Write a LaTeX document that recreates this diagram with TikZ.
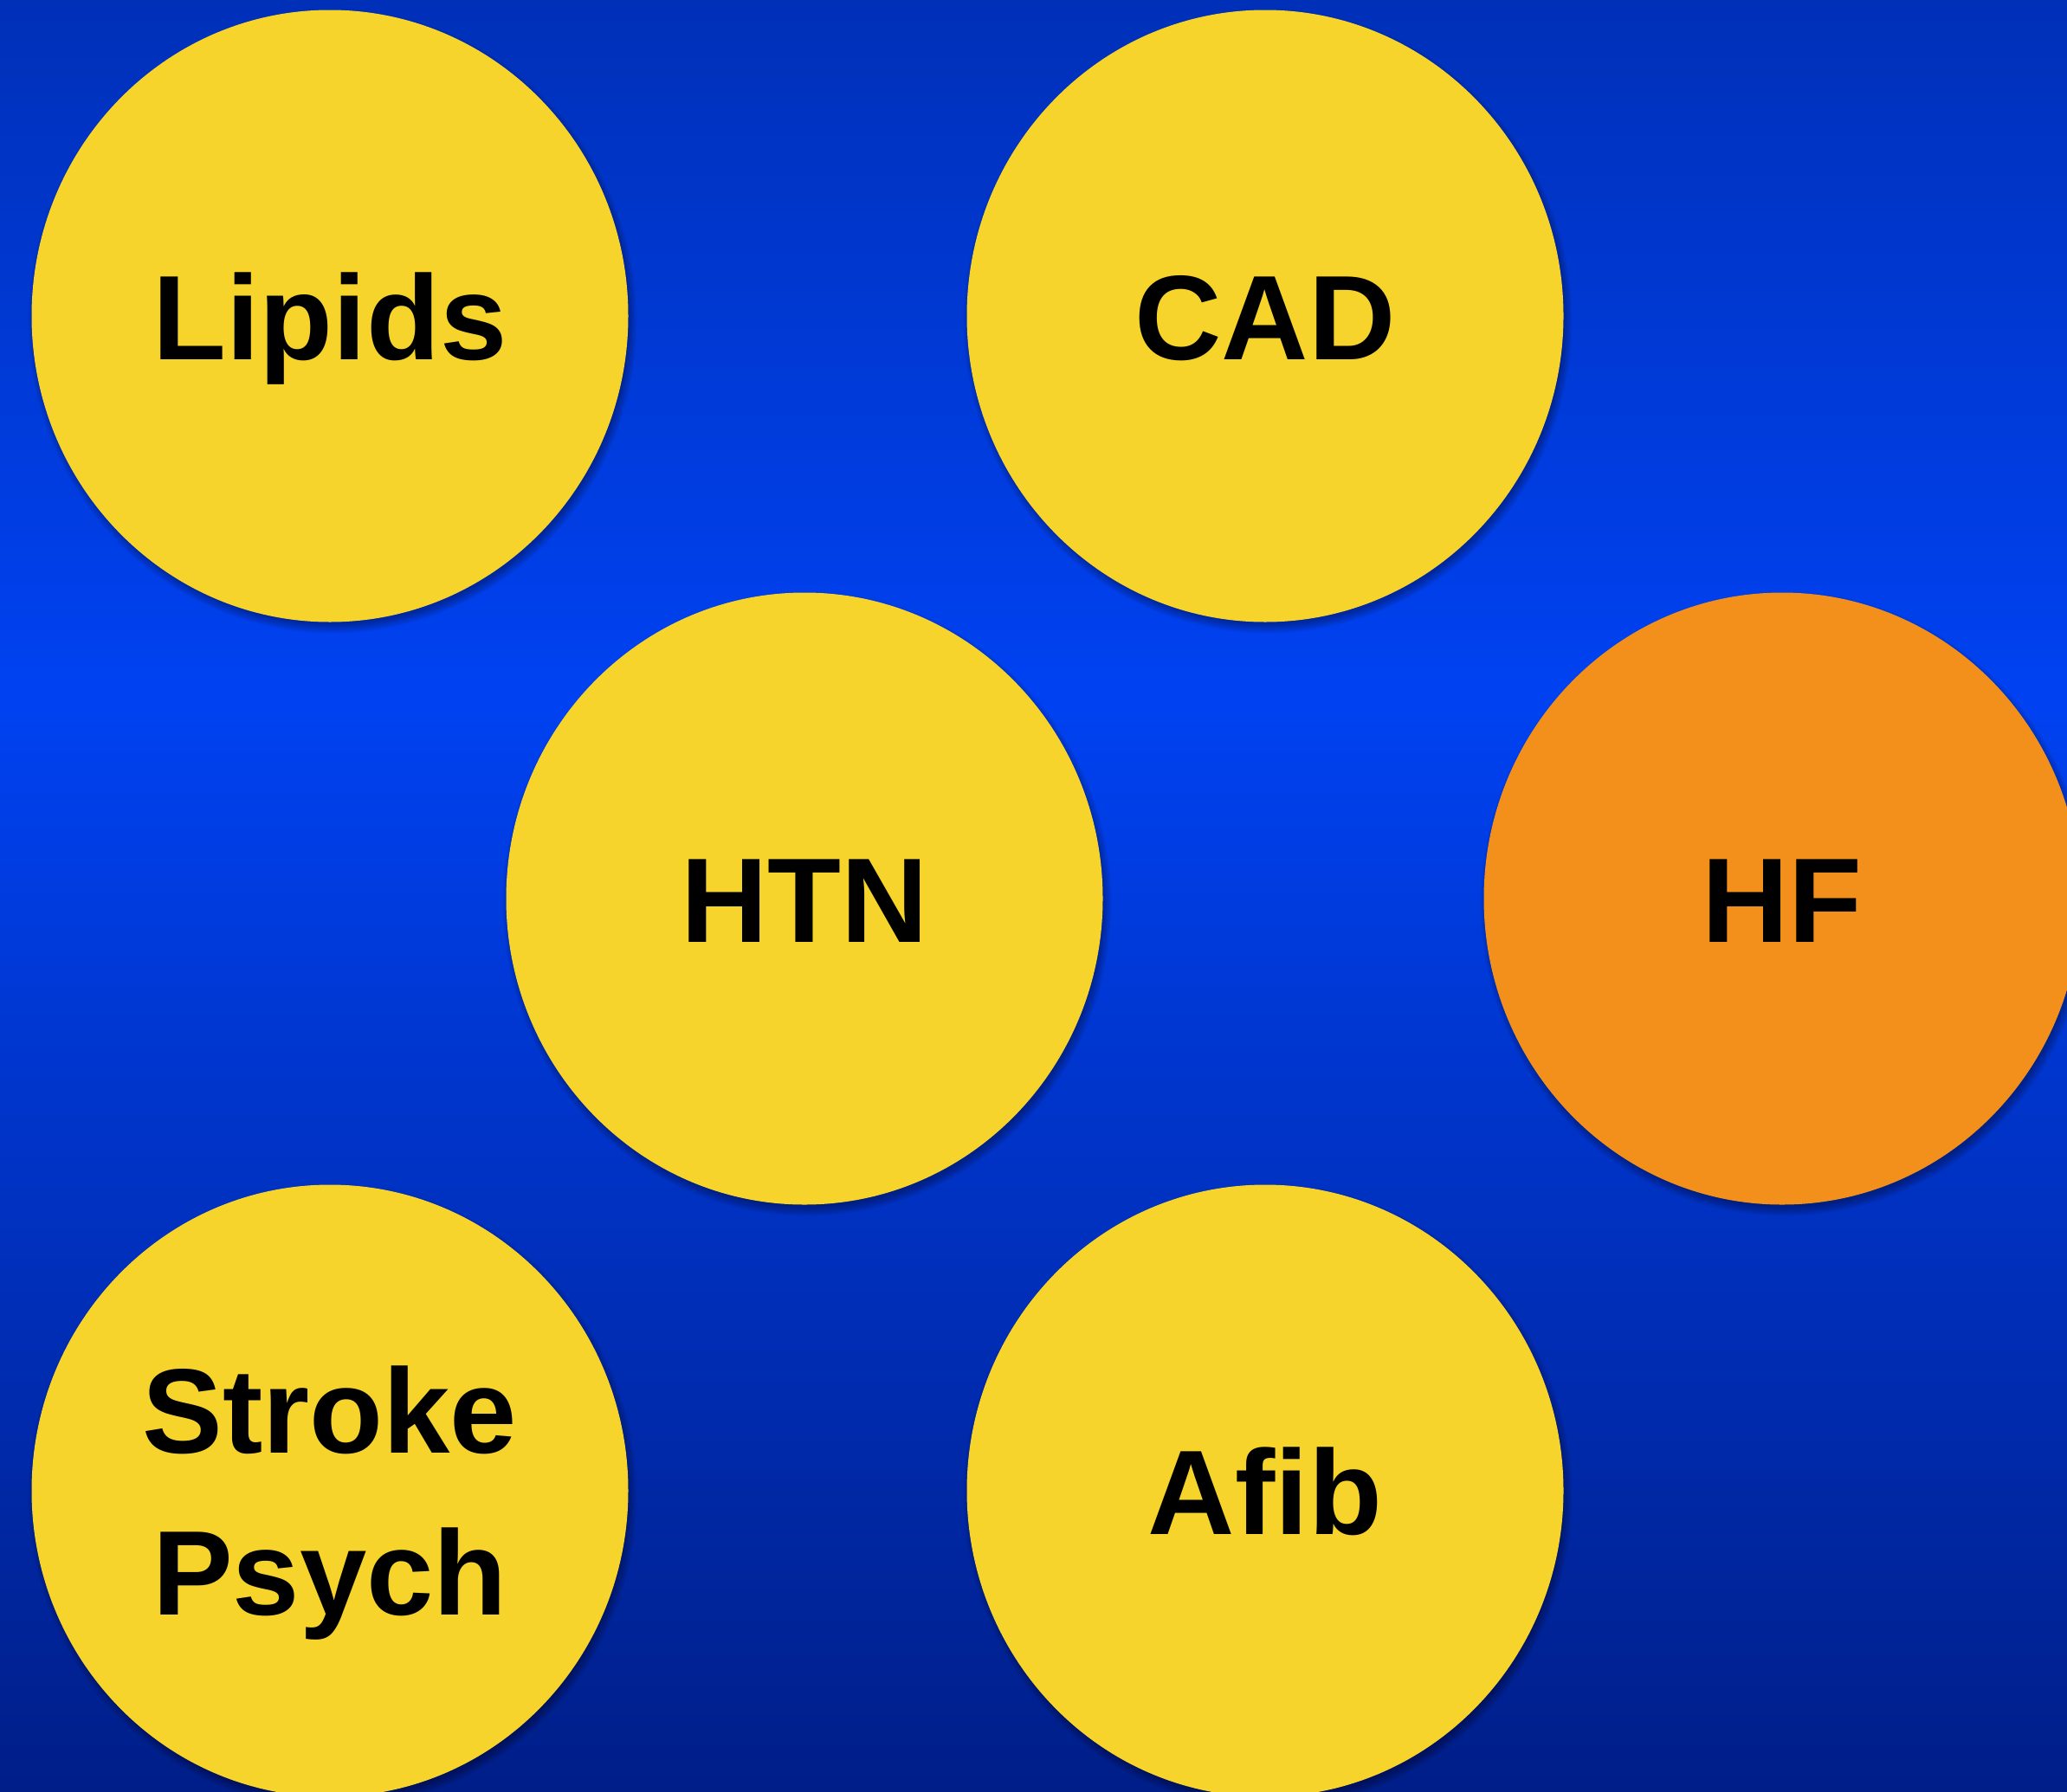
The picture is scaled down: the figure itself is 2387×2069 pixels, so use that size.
\documentclass[tikz,border=0pt]{standalone}
\usepackage{fontspec}
\setmainfont{Liberation Sans}
\usetikzlibrary{shapes.geometric}
\definecolor{bgtop}{HTML}{0030B8}
\definecolor{bgmid}{HTML}{0042F2}
\definecolor{bgbot}{HTML}{001E88}
\definecolor{discyellow}{HTML}{F6D42C}
\definecolor{discorange}{HTML}{F2901B}
\tikzset{
  disc/.style={ellipse, inner sep=0pt, minimum width=689pt, minimum height=707pt,
               fill=discyellow, draw=none},
  lbl/.style={anchor=base, inner sep=0pt, align=center, text=black,
              font=\fontsize{139}{187}\selectfont\bfseries},
}
% soft shadow under a disc centred at (#1,#2)
\newcommand\discshadow[2]{%
  \foreach \k in {1,...,7}{%
    \fill[black, opacity=0.05] (#1+3,#2+6) ellipse [x radius={340+\k*1.6}, y radius={349+\k*1.6}];
  }%
}
\begin{document}
\begin{tikzpicture}[x=1pt, y=-1pt]
  \useasboundingbox (0,0) rectangle (2387,2069);
  \clip (0,0) rectangle (2387,2069);
  % background gradient
  \shade[top color=bgtop, bottom color=bgmid] (0,0) rectangle (2387,805);
  \shade[top color=bgmid, bottom color=bgbot] (0,804) rectangle (2387,2069);
  % shadows
  \discshadow{381}{365}
  \discshadow{1461}{365}
  \discshadow{929}{1038}
  \discshadow{2058}{1038}
  \discshadow{381}{1722}
  \discshadow{1461}{1722}
  % discs
  \node[disc] (lipids) at (381,365) {};
  \node[disc] (cad) at (1461,365) {};
  \node[disc] (htn) at (929,1038) {};
  \node[disc, fill=discorange] (hf) at (2058,1038) {};
  \node[disc] (stroke) at (381,1722) {};
  \node[disc] (afib) at (1461,1722) {};
  % labels (base anchor of the two-line label is its last baseline)
  \node[lbl] (tlipids) at (381,415) {Lipids};
  \node[lbl] (tcad) at (1461,415) {CAD};
  \node[lbl] (thtn) at (929,1088) {HTN};
  \node[lbl] (thf) at (2058,1088) {HF};
  \node[lbl] (tstroke) at (381,1865) {Stroke\\Psych};
  \node[lbl] (tafib) at (1461,1772) {Afib};
\end{tikzpicture}
\end{document}
